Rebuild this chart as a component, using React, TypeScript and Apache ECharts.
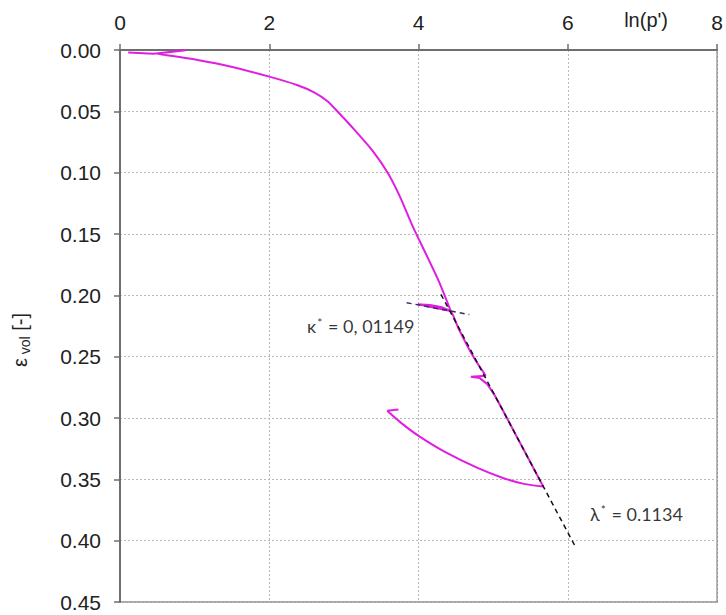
import React, { useEffect, useRef } from "react";
import * as echarts from "echarts";

// ln(p') vs volumetric strain — measured curve (loading + unload/reload loops)
const initialSpike: number[][] = [
  [0.11, 0.002], [0.45, 0.003], [0.88, 0.0003], [0.5, 0.0028], [0.6, 0.0041],
];
const virginLoading: number[][] = [
  [0.6, 0.0041], [1.04, 0.0081], [1.49, 0.0136], [2.0, 0.0217], [2.37, 0.0285], [2.6, 0.0345],
  [2.78, 0.0418], [2.93, 0.0512], [3.13, 0.0643], [3.39, 0.0826], [3.59, 0.1005], [3.75, 0.1195],
  [3.92, 0.1436], [4.26, 0.187], [4.43, 0.2127],
];
const unloadReload1: number[][] = [
  [4.43, 0.2127], [4.2, 0.21], [3.99, 0.2073], [4.15, 0.2078], [4.3, 0.2095], [4.43, 0.2127], [4.46, 0.216],
];
const loadingSegment2: number[][] = [
  [4.46, 0.216], [4.54, 0.2276], [4.74, 0.2507], [4.9, 0.2656],
];
const unloadReload2: number[][] = [
  [4.9, 0.2656], [4.7, 0.2664], [4.82, 0.2675], [4.92, 0.2724],
];
const loadingSegment3: number[][] = [
  [4.92, 0.2724], [5.01, 0.2805], [5.12, 0.2927], [5.67, 0.3558],
];
const finalUnloading: number[][] = [
  [5.67, 0.3558], [5.41, 0.3537], [5.14, 0.3491], [4.79, 0.3407], [4.34, 0.3272], [4.0, 0.3146],
  [3.77, 0.3042], [3.58, 0.2941],
];
const finalHook: number[][] = [[3.58, 0.2941], [3.73, 0.293]];

// fitted lines
const kappaLine: number[][] = [[3.84, 0.206], [4.68, 0.2157]];
const lambdaLine: number[][] = [[4.3, 0.1992], [6.11, 0.406]];

// annotation anchors
const kappaLabelPos: number[] = [2.5, 0.2252];
const lambdaLabelPos: number[] = [6.29, 0.378];
const kappaText = "{a|κ}{sup|*}{a| = 0, 01149}";
const lambdaText = "{a|λ}{sup|*}{a| = 0.1134}";

// axes
const xMin = 0, xMax = 8, xInterval = 2;
const yMin = 0, yMax = 0.45, yInterval = 0.05;
const xName = "ln(p')";
const yName = "{e|ε}{s| vol}{e| [-]}";

const MAGENTA = "#e01ee0";

export default function App() {
  const ref = useRef<HTMLDivElement>(null);
  useEffect(() => {
    if (!ref.current) return;
    const chart = echarts.init(ref.current, undefined, { renderer: "svg" });
    const curve = (data: number[][], smooth: number | boolean) => ({
      type: "line", data, showSymbol: false, silent: true, smooth,
      lineStyle: { color: MAGENTA, width: 2 }, z: 2,
    });
    const labelRich = {
      a: { fontFamily: "Lato", fontSize: 18, color: "#000" },
      sup: { fontFamily: "Lato", fontSize: 12, color: "#000", verticalAlign: "top", padding: [0, 1, 8, 1] },
    };
    chart.setOption({
      animation: false,
      backgroundColor: "#fff",
      grid: {
        left: 120, right: 6, top: 50, bottom: 13,
        show: true, borderColor: "#8a8a8a", borderWidth: 1.5, backgroundColor: "transparent",
      },
      xAxis: {
        type: "value", position: "top", min: xMin, max: xMax, interval: xInterval,
        name: xName, nameLocation: "end", nameGap: -93,
        nameTextStyle: { fontFamily: "Liberation Sans", fontSize: 20, color: "#222", verticalAlign: "bottom", padding: [0, 0, 20, 0] },
        axisLine: { show: true, lineStyle: { color: "#6e6e6e", width: 2 } },
        axisTick: { show: true, inside: false, length: 6, lineStyle: { color: "#6e6e6e", width: 1.5 } },
        axisLabel: { fontFamily: "Liberation Sans", fontSize: 21, color: "#222", margin: 17 },
        splitLine: { show: true, lineStyle: { color: "#b8b8b8", type: [2, 2], width: 1 } },
      },
      yAxis: {
        type: "value", inverse: true, min: yMin, max: yMax, interval: yInterval,
        name: yName, nameLocation: "middle", nameRotate: 90, nameGap: 88,
        nameTextStyle: {
          padding: [0, 28, 0, 0],
          rich: {
            e: { fontFamily: "Liberation Sans", fontSize: 20, color: "#222" },
            s: { fontFamily: "Liberation Sans", fontSize: 14, color: "#222", verticalAlign: "bottom", lineHeight: 24 },
          },
        },
        axisLine: { show: true, lineStyle: { color: "#6e6e6e", width: 2 } },
        axisTick: { show: true, inside: false, length: 6, lineStyle: { color: "#6e6e6e", width: 1.5 } },
        axisLabel: {
          fontFamily: "Liberation Sans", fontSize: 21, color: "#222", margin: 19,
          formatter: (v: number) => v.toFixed(2),
        },
        splitLine: { show: true, lineStyle: { color: "#b8b8b8", type: [2, 2], width: 1 } },
      },
      series: [
        curve(initialSpike, false),
        curve(virginLoading, 0.25),
        curve(unloadReload1, false),
        curve(loadingSegment2, 0.2),
        curve(unloadReload2, false),
        curve(loadingSegment3, false),
        curve(finalUnloading, 0.3),
        curve(finalHook, false),
        {
          type: "line", data: kappaLine, showSymbol: false, silent: true,
          lineStyle: { color: "#33335e", width: 1.5, type: [5, 4] }, z: 3,
        },
        {
          type: "line", data: lambdaLine, showSymbol: false, silent: true,
          lineStyle: { color: "#111", width: 1.5, type: [5, 4] }, z: 3,
        },
        {
          type: "scatter", silent: true, symbolSize: 1, itemStyle: { color: "rgba(0,0,0,0)" },
          label: { show: true, position: "right", distance: 0, color: "#000", rich: labelRich },
          data: [
            { value: kappaLabelPos, label: { formatter: kappaText } },
            { value: lambdaLabelPos, label: { formatter: lambdaText } },
          ],
          z: 4,
        },
      ],
    });
    return () => chart.dispose();
  }, []);
  return (
    <div
      ref={ref}
      style={{ position: "absolute", left: 0, top: 0, width: 726, height: 615, background: "#fff" }}
    />
  );
}
